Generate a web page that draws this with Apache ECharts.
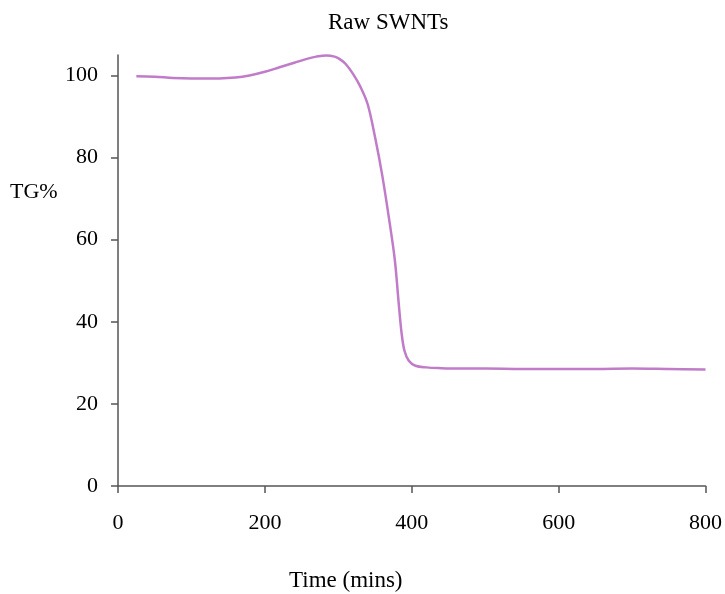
<!DOCTYPE html>
<html>
<head>
<meta charset="utf-8">
<script src="https://cdn.jsdelivr.net/npm/echarts@6/dist/echarts.min.js"></script>
<style>
  html, body { margin: 0; padding: 0; background: #fff; }
  #main { width: 725px; height: 594px; }
</style>
</head>
<body>
<div id="main"></div>
<script>
// time (mins) and TG%
var timeMins = [25, 50, 75, 100, 138, 160, 179, 200, 220, 240, 256, 270, 284, 295, 302, 310, 320, 330, 340, 350, 360, 370, 377, 382, 386, 390, 396, 405, 420, 440, 460, 500, 550, 600, 650, 700, 750, 800];
var tgPct = [99.8, 99.7, 99.4, 99.3, 99.3, 99.5, 100.0, 100.9, 102.0, 103.1, 104.0, 104.6, 104.9, 104.6, 104.0, 102.8, 100.4, 97.3, 93.0, 85.0, 75.5, 64.0, 55.0, 45.0, 37.5, 33.0, 30.5, 29.3, 28.9, 28.7, 28.6, 28.6, 28.5, 28.5, 28.5, 28.6, 28.5, 28.4];
var yTicks = [0, 20, 40, 60, 80, 100];

var pts = [];
for (var i = 0; i < timeMins.length; i++) pts.push([timeMins[i], tgPct[i]]);

var font = '"Liberation Serif", "DejaVu Serif", serif';
var chart = echarts.init(document.getElementById('main'));
chart.setOption({
  animation: false,
  backgroundColor: '#fff',
  grid: { left: 118, right: 18, top: 55, bottom: 108 },
  graphic: [
    { type: 'text', left: 328, top: 11, style: { text: 'Raw SWNTs', font: '23px ' + font, fill: '#000' } },
    { type: 'text', left: 10, top: 181, style: { text: 'TG%', font: '22px ' + font, fill: '#000' } },
    { type: 'text', left: 289, top: 569, style: { text: 'Time (mins)', font: '23px ' + font, fill: '#000' } }
  ],
  xAxis: {
    type: 'value', min: 0, max: 800, interval: 200,
    axisLine: { show: true, lineStyle: { color: '#555', width: 1.5 } },
    axisTick: { show: true, inside: false, length: 7, lineStyle: { color: '#555', width: 1.5 } },
    axisLabel: { margin: 26, fontFamily: font, fontSize: 22, color: '#000' },
    splitLine: { show: false }
  },
  yAxis: {
    type: 'value', min: 0, max: 105,
    axisLine: { show: true, lineStyle: { color: '#555', width: 1.5 } },
    axisTick: { show: true, inside: false, length: 7, customValues: yTicks, lineStyle: { color: '#555', width: 1.5 } },
    axisLabel: { margin: 20, fontFamily: font, fontSize: 22, color: '#000', customValues: yTicks },
    splitLine: { show: false }
  },
  series: [{
    type: 'line',
    data: pts,
    smooth: 0.35,
    showSymbol: false,
    lineStyle: { color: '#c07cc8', width: 2.5 }
  }]
});
</script>
</body>
</html>
